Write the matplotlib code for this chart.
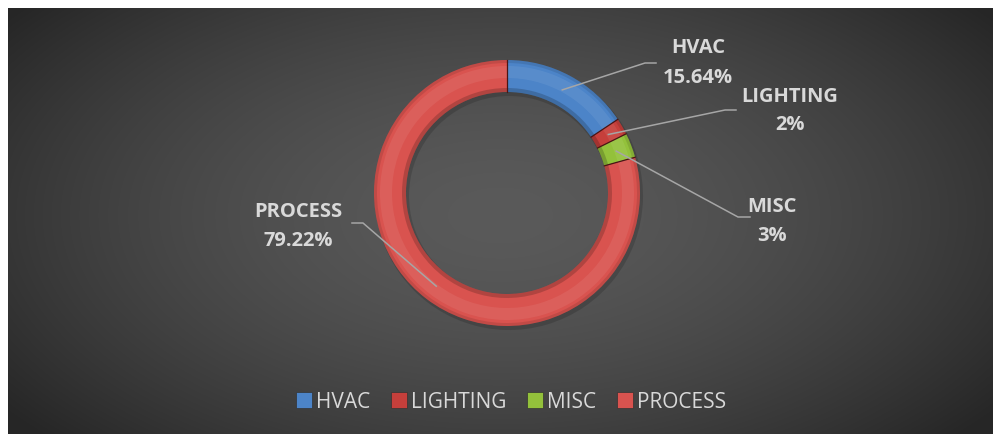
import numpy as np
import matplotlib.pyplot as plt
from matplotlib.lines import Line2D

plt.rcParams["font.family"] = ["Open Sans", "DejaVu Sans"]

# data
categories = ["HVAC", "LIGHTING", "MISC", "PROCESS"]
shares = [15.64, 2, 3, 79.22]
share_labels = ["15.64%", "2%", "3%", "79.22%"]
colors = ["#4c84c8", "#c63f3b", "#93c13b", "#d9534f"]

W, H = 993, 434
fig = plt.figure(figsize=(W / 100, H / 100), dpi=100)
fig.patch.set_facecolor("white")
ax = fig.add_axes([0, 0, 1, 1])

# radial gradient background (chart area starts a few px in from top/left)
yy, xx = np.mgrid[0:H - 8, 0:W - 8]
d = np.sqrt(((xx + 8 - 500) / 620.0) ** 2 + ((yy + 8 - 215) / 330.0) ** 2)
d = np.clip(d, 0, 1)
c_in, c_out = 0x5a / 255, 0x26 / 255
bg = c_out + (c_in - c_out) * (1 - d ** 1.6)
ax.imshow(np.dstack([bg, bg, bg]), extent=(8, W, H, 8), aspect="auto",
          interpolation="bilinear", zorder=0)

center = (507, 193)
r_out, r_in = 133, 101
ring = r_out - r_in

# soft drop shadow
ax.pie(shares, radius=r_out + 1, center=(center[0] + 2, center[1] + 3),
       startangle=-90, counterclock=True, frame=True,
       colors=["black"] * 4,
       wedgeprops=dict(width=ring + 2, linewidth=0, alpha=0.15))

# base ring
wedges, _ = ax.pie(shares, radius=r_out, center=center, startangle=-90,
                   counterclock=True, frame=True, colors=colors,
                   wedgeprops=dict(width=ring, linewidth=0))

# tube shading: darker rims, soft highlight in the middle
ax.pie(shares, radius=r_out, center=center, startangle=-90, counterclock=True,
       frame=True, colors=["black"] * 4,
       wedgeprops=dict(width=3, linewidth=0, alpha=0.10))
ax.pie(shares, radius=r_in + 4, center=center, startangle=-90, counterclock=True,
       frame=True, colors=["black"] * 4,
       wedgeprops=dict(width=4, linewidth=0, alpha=0.18))
ax.pie(shares, radius=r_out - 6, center=center, startangle=-90, counterclock=True,
       frame=True, colors=["white"] * 4,
       wedgeprops=dict(width=12, linewidth=0, alpha=0.07))

# thin dark separators between segments
for wdg in wedges:
    a = np.deg2rad(wdg.theta1)
    ax.plot([center[0] + r_in * np.cos(a), center[0] + r_out * np.cos(a)],
            [center[1] + r_in * np.sin(a), center[1] + r_out * np.sin(a)],
            color="#4a1515", lw=0.9, zorder=4)

# labels with leader lines
label_pos = {
    "HVAC": ((698, 48), (698, 78), [(645, 63), (656, 63)]),
    "LIGHTING": ((790, 97), (790, 125), [(725, 110), (736, 110)]),
    "MISC": ((772, 207), (772, 236), [(738, 217), (750, 217)]),
    "PROCESS": ((298, 212), (298, 241), [(363, 223), (352, 223)]),
}
r_mid = (r_out + r_in) / 2
cum = np.cumsum([0] + shares[:-1])
for name, val, lab, start in zip(categories, shares, share_labels, cum):
    ang = np.deg2rad(-90 + (start + val / 2) / sum(shares) * 360)
    sx = center[0] + r_mid * np.cos(ang)
    sy = center[1] + r_mid * np.sin(ang)
    p1, p2, elbow = label_pos[name]
    xs = [sx] + [p[0] for p in elbow]
    ys = [sy] + [p[1] for p in elbow]
    ax.plot(xs, ys, color="#a6a6a6", lw=1.1, zorder=5)
    ax.text(*p1, name, ha="center", va="center", color="#d9d9d9",
            fontsize=14.5, fontweight="bold", zorder=6)
    ax.text(*p2, lab, ha="center", va="center", color="#d9d9d9",
            fontsize=14.5, fontweight="bold", zorder=6)

# legend
handles = [Line2D([], [], ls="none", marker="s", markersize=11,
                  markerfacecolor=c, markeredgecolor="#333333",
                  markeredgewidth=0.5) for c in colors]
leg = ax.legend(handles, categories, loc="center", bbox_to_anchor=(511, 402),
                bbox_transform=ax.transData, ncol=4, frameon=False,
                fontsize=15, handlelength=0.75, handletextpad=0.2,
                columnspacing=1.0, borderpad=0)
for t in leg.get_texts():
    t.set_color("#d9d9d9")

ax.set_xlim(0, W)
ax.set_ylim(H, 0)
ax.set_aspect("auto")
ax.axis("off")

fig.savefig("out.png", dpi=100, facecolor=fig.get_facecolor())
